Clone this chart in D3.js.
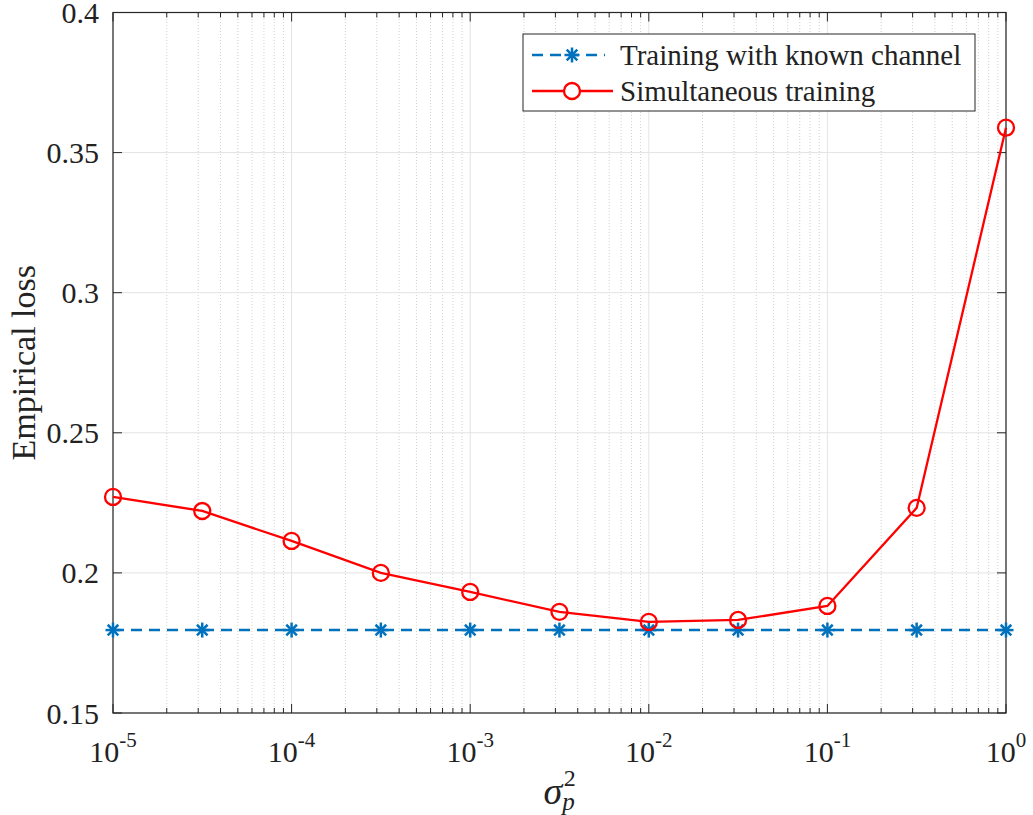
<!DOCTYPE html>
<html>
<head>
<meta charset="utf-8">
<script src="https://cdn.jsdelivr.net/npm/d3@7"></script>
<style>
  body { margin: 0; background: #fff; }
  text { font-family: "Liberation Serif", "Times New Roman", serif; fill: #222; }
</style>
</head>
<body>
<script>
// data
const sigmaP2 = [1e-5, 3.16e-5, 1e-4, 3.16e-4, 1e-3, 3.16e-3, 1e-2, 3.16e-2, 1e-1, 3.16e-1, 1];
const knownChannel = [0.1796, 0.1796, 0.1796, 0.1796, 0.1796, 0.1796, 0.1796, 0.1796, 0.1796, 0.1796, 0.1796];
const simultaneous = [0.2271, 0.2221, 0.2114, 0.2000, 0.1932, 0.1861, 0.1825, 0.1832, 0.1882, 0.2232, 0.3589];
const yTicks = [0.15, 0.2, 0.25, 0.3, 0.35, 0.4];
const xExponents = [-5, -4, -3, -2, -1, 0];
const seriesNames = ["Training with known channel", "Simultaneous training"];

const width = 1033, height = 815;
const margin = { left: 113, right: 27, top: 12.5, bottom: 102 };

const svg = d3.select('body')
    .append('svg')
    .attr('width', width)
    .attr('height', height);

const x = d3.scaleLog()
    .domain([1e-5, 1])
    .range([margin.left, width - margin.right]);

const y = d3.scaleLinear()
    .domain([0.15, 0.4])
    .range([height - margin.bottom, margin.top]);

const x0 = x.range()[0], x1 = x.range()[1];
const y0 = y.range()[0], y1 = y.range()[1];

// minor x grid (dotted)
const minorTicks = [];
xExponents.slice(0, -1).forEach(e => {
    for (let k = 2; k <= 9; k++) minorTicks.push(k * Math.pow(10, e));
});

const grid = svg.append('g');
grid.selectAll('.minor')
    .data(minorTicks)
    .enter().append('line')
    .attr('x1', d => x(d)).attr('x2', d => x(d))
    .attr('y1', y0).attr('y2', y1)
    .attr('stroke', '#c4c4c4')
    .attr('stroke-width', 0.8)
    .attr('stroke-dasharray', '1,2');

grid.selectAll('.majorx')
    .data(xExponents.map(e => Math.pow(10, e)))
    .enter().append('line')
    .attr('x1', d => x(d)).attr('x2', d => x(d))
    .attr('y1', y0).attr('y2', y1)
    .attr('stroke', '#e3e3e3')
    .attr('stroke-width', 1);

grid.selectAll('.majory')
    .data(yTicks)
    .enter().append('line')
    .attr('x1', x0).attr('x2', x1)
    .attr('y1', d => y(d)).attr('y2', d => y(d))
    .attr('stroke', '#e3e3e3')
    .attr('stroke-width', 1);

// axes box with inward ticks
const axisColor = '#262626';
const tickG = svg.append('g').attr('stroke', axisColor).attr('stroke-width', 1);
minorTicks.forEach(v => {
    tickG.append('line').attr('x1', x(v)).attr('x2', x(v)).attr('y1', y0).attr('y2', y0 - 5);
    tickG.append('line').attr('x1', x(v)).attr('x2', x(v)).attr('y1', y1).attr('y2', y1 + 5);
});
xExponents.forEach(e => {
    const v = Math.pow(10, e);
    tickG.append('line').attr('x1', x(v)).attr('x2', x(v)).attr('y1', y0).attr('y2', y0 - 9);
    tickG.append('line').attr('x1', x(v)).attr('x2', x(v)).attr('y1', y1).attr('y2', y1 + 9);
});
yTicks.forEach(v => {
    tickG.append('line').attr('x1', x0).attr('x2', x0 + 9).attr('y1', y(v)).attr('y2', y(v));
    tickG.append('line').attr('x1', x1).attr('x2', x1 - 9).attr('y1', y(v)).attr('y2', y(v));
});
svg.append('rect')
    .attr('x', x0).attr('y', y1)
    .attr('width', x1 - x0).attr('height', y0 - y1)
    .attr('fill', 'none')
    .attr('stroke', axisColor)
    .attr('stroke-width', 1.2);

// tick labels
svg.selectAll('.ylab')
    .data(yTicks)
    .enter().append('text')
    .attr('x', x0 - 14)
    .attr('y', d => y(d))
    .attr('dy', '0.35em')
    .attr('text-anchor', 'end')
    .attr('font-size', 30)
    .text(d => String(d));

const xl = svg.selectAll('.xlab')
    .data(xExponents)
    .enter().append('text')
    .attr('x', d => x(Math.pow(10, d)))
    .attr('y', y0 + 49)
    .attr('text-anchor', 'middle')
    .attr('font-size', 30);
xl.append('tspan').text('10');
xl.append('tspan')
    .attr('dy', -15)
    .attr('font-size', 21)
    .text(d => String(d));

// axis titles
const xt = svg.append('text')
    .attr('x', (x0 + x1) / 2)
    .attr('y', 804)
    .attr('text-anchor', 'middle')
    .attr('font-size', 38);
xt.append('tspan').attr('font-style', 'italic').text('σ');
xt.append('tspan').attr('font-style', 'italic').attr('font-size', 25).attr('dy', 6).text('p');
xt.append('tspan').attr('font-size', 24).attr('dx', -11).attr('dy', -24).text('2');

svg.append('text')
    .attr('transform', `translate(35, ${(y0 + y1) / 2}) rotate(-90)`)
    .attr('text-anchor', 'middle')
    .attr('font-size', 34)
    .text('Empirical loss');

// series
const blue = '#0072BD', red = '#FF0000';
const line = d3.line()
    .x(d => x(d[0]))
    .y(d => y(d[1]));

const blueData = sigmaP2.map((v, i) => [v, knownChannel[i]]);
const redData = sigmaP2.map((v, i) => [v, simultaneous[i]]);

const plot = svg.append('g');

plot.append('path')
    .datum(blueData)
    .attr('d', line)
    .attr('fill', 'none')
    .attr('stroke', blue)
    .attr('stroke-width', 2.5)
    .attr('stroke-dasharray', '11,7');

function star(g, cx, cy, r, color) {
    for (let k = 0; k < 4; k++) {
        const a = k * Math.PI / 4;
        g.append('line')
            .attr('x1', cx - r * Math.cos(a)).attr('y1', cy - r * Math.sin(a))
            .attr('x2', cx + r * Math.cos(a)).attr('y2', cy + r * Math.sin(a))
            .attr('stroke', color)
            .attr('stroke-width', 2.5);
    }
}
blueData.forEach(d => star(plot, x(d[0]), y(d[1]), 7.5, blue));

plot.append('path')
    .datum(redData)
    .attr('d', line)
    .attr('fill', 'none')
    .attr('stroke', red)
    .attr('stroke-width', 2.3);

plot.selectAll('.rc')
    .data(redData)
    .enter().append('circle')
    .attr('cx', d => x(d[0]))
    .attr('cy', d => y(d[1]))
    .attr('r', 8)
    .attr('fill', 'none')
    .attr('stroke', red)
    .attr('stroke-width', 2.3);

// legend
const lg = svg.append('g').attr('transform', 'translate(523,34)');
lg.append('rect')
    .attr('width', 452).attr('height', 77)
    .attr('fill', '#fff')
    .attr('stroke', axisColor)
    .attr('stroke-width', 1);

const row1 = 21, row2 = 57;
lg.append('line')
    .attr('x1', 9).attr('x2', 82).attr('y1', row1).attr('y2', row1)
    .attr('stroke', blue).attr('stroke-width', 2.5).attr('stroke-dasharray', '11,7');
star(lg, 49, row1, 7.5, blue);
lg.append('text').attr('x', 97).attr('y', row1 + 10).attr('font-size', 29).text(seriesNames[0]);

lg.append('line')
    .attr('x1', 9).attr('x2', 90).attr('y1', row2).attr('y2', row2)
    .attr('stroke', red).attr('stroke-width', 2.3);
lg.append('circle').attr('cx', 49).attr('cy', row2).attr('r', 8)
    .attr('fill', '#fff').attr('stroke', red).attr('stroke-width', 2.3);
lg.append('text').attr('x', 97).attr('y', row2 + 10).attr('font-size', 29).text(seriesNames[1]);
</script>
</body>
</html>
